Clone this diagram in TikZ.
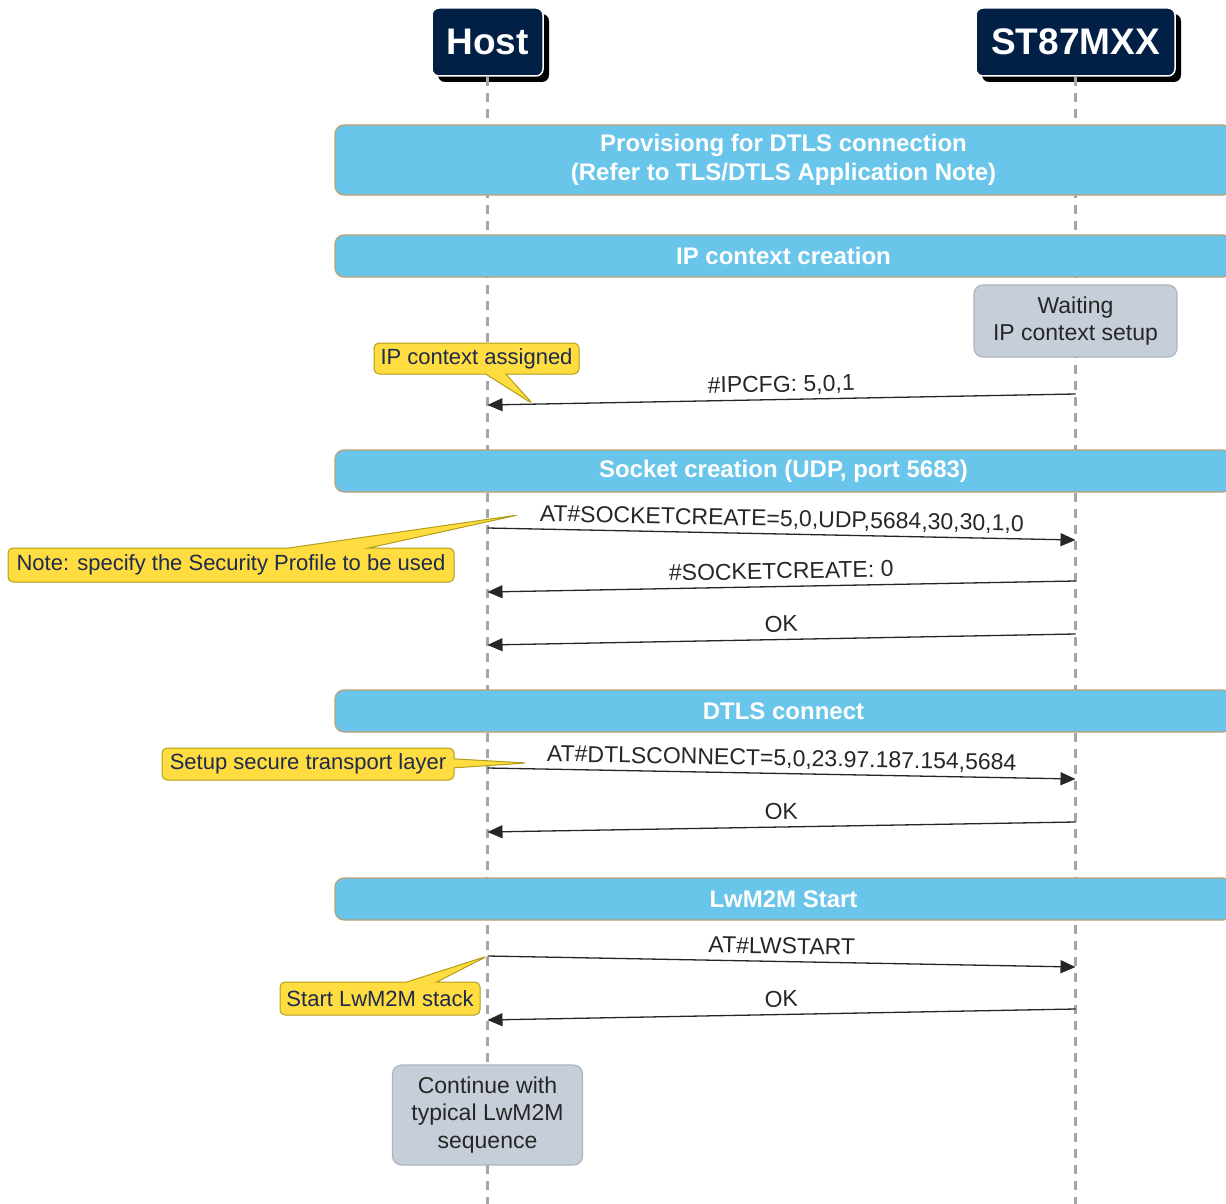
\documentclass[tikz,border=0pt]{standalone}
\usepackage{fontspec}
\setmainfont{Liberation Sans}
\usetikzlibrary{arrows.meta, positioning, shapes.callouts, shadows}
\definecolor{hdrnavy}{RGB}{2,32,70}
\definecolor{bandblue}{RGB}{106,197,235}
\definecolor{bandedge}{RGB}{190,160,115}
\definecolor{waitgray}{RGB}{197,206,217}
\definecolor{waitedge}{RGB}{172,180,192}
\definecolor{noteyellow}{RGB}{255,221,64}
\definecolor{noteedge}{RGB}{178,158,24}
\definecolor{notetext}{RGB}{30,42,78}
\definecolor{lifegray}{RGB}{165,165,165}

\begin{document}
\begin{tikzpicture}[x=1pt, y=-1pt,
    actor/.style={rectangle, rounded corners=7pt, fill=hdrnavy, draw=white, line width=1.5pt,
                  text=white, font=\fontsize{37}{40}\selectfont\bfseries, minimum height=68pt,
                  drop shadow={shadow xshift=6pt, shadow yshift=-6pt, fill=black, opacity=1}},
    band/.style={rectangle, rounded corners=9pt, fill=bandblue, draw=bandedge, line width=1.2pt,
                 text=white, align=center, minimum width=897pt, font=\fontsize{24}{29}\selectfont\bfseries},
    state/.style={rectangle, rounded corners=9pt, fill=waitgray, draw=waitedge, line width=1.2pt,
                  text=black!85, align=center, font=\fontsize{23}{27.5}\selectfont},
    note/.style={rectangle callout, rounded corners=5pt, fill=noteyellow, draw=noteedge, line width=1pt,
                 text=notetext, font=\fontsize{22}{26}\selectfont, inner sep=2pt},
    lifeline/.style={lifegray, line width=2.2pt, dash pattern=on 9pt off 7pt},
    msg/.style={-{Triangle[length=15pt, width=13pt]}, line width=1.3pt, black!85},
    msglabel/.style={font=\fontsize{23}{27}\selectfont, midway, sloped, above=1pt, inner sep=2pt,
                     text height=16pt, text depth=4pt}
]
    \useasboundingbox (0,0) rectangle (1226,1204);
    \clip (0,0) rectangle (1226,1204);

    % actors and lifelines
    \node[actor, minimum width=111pt] (host)  at (487.5,42)  {Host};
    \node[actor, minimum width=199pt] (modem) at (1075.5,42) {ST87MXX};
    \coordinate (hostend)  at (487.5,1204);
    \coordinate (modemend) at (1075.5,1204);
    \draw[lifeline] (host.south) -- (hostend);
    \draw[lifeline] (modem.south) -- (modemend);

    % phases
    \node[band, minimum height=70pt] (prov)    at (783.5,160) {Provisiong for DTLS connection\\(Refer to TLS/DTLS Application Note)};
    \node[band, minimum height=42pt] (ipctx)   at (783.5,256) {IP context creation};
    \node[band, minimum height=42pt] (sock)    at (783.5,471) {Socket creation (UDP, port 5683)};
    \node[band, minimum height=42pt] (dtls)    at (783.5,711) {DTLS connect};
    \node[band, minimum height=42pt] (lwstart) at (783.5,899) {LwM2M Start};

    % states
    \node[state, minimum width=203pt, minimum height=72pt]  (waiting)  at (1075.5,321) {Waiting\\IP context setup};
    \node[state, minimum width=190pt, minimum height=100pt] (continue) at (487.5,1115) {Continue with\\typical LwM2M\\sequence};

    % message end points
    \coordinate (ipcfgS)   at (1075.5,394);  \coordinate (ipcfgH)   at (487.5,405);
    \coordinate (sockcmdH) at (487.5,528);   \coordinate (sockcmdS) at (1075.5,540);
    \coordinate (sockresS) at (1075.5,581);  \coordinate (sockresH) at (487.5,592);
    \coordinate (sockokS)  at (1075.5,634);  \coordinate (sockokH)  at (487.5,645);
    \coordinate (dtlscmdH) at (487.5,768);   \coordinate (dtlscmdS) at (1075.5,779);
    \coordinate (dtlsokS)  at (1075.5,822);  \coordinate (dtlsokH)  at (487.5,832);
    \coordinate (lwcmdH)   at (487.5,956);   \coordinate (lwcmdS)   at (1075.5,967);
    \coordinate (lwokS)    at (1075.5,1009); \coordinate (lwokH)    at (487.5,1020);

    \draw[msg] (ipcfgS) -- node[msglabel] {\#IPCFG: 5,0,1} (ipcfgH);
    \draw[msg] (sockcmdH) -- node[msglabel] (sockcmd) {AT\#SOCKETCREATE=5,0,UDP,5684,30,30,1,0} (sockcmdS);
    \draw[msg] (sockresS) -- node[msglabel] {\#SOCKETCREATE: 0} (sockresH);
    \draw[msg] (sockokS) -- node[msglabel] {OK} (sockokH);
    \draw[msg] (dtlscmdH) -- node[msglabel] (dtlscmd) {AT\#DTLSCONNECT=5,0,23.97.187.154,5684} (dtlscmdS);
    \draw[msg] (dtlsokS) -- node[msglabel] {OK} (dtlsokH);
    \draw[msg] (lwcmdH) -- node[msglabel] {AT\#LWSTART} (lwcmdS);
    \draw[msg] (lwokS) -- node[msglabel] {OK} (lwokH);

    % callouts
    \coordinate (iptip)    at (533,404);
    \coordinate (socktip)  at (518,515);
    \coordinate (dtlstip)  at (527,763);
    \node[note, minimum width=205pt, minimum height=31pt, callout absolute pointer={(iptip)},
          callout pointer width=20pt] (ipnote) at (476.5,358.5) {IP context assigned};
    \node[note, minimum width=446pt, minimum height=34pt, callout absolute pointer={(socktip)},
          callout pointer width=80pt] (socknote) at (231,565) {Note: specify the Security Profile to be used};
    \node[note, minimum width=292pt, minimum height=32pt, callout absolute pointer={(dtlstip)},
          callout pointer width=9pt] (dtlsnote) at (308,764) {Setup secure transport layer};
    \node[note, minimum width=200pt, minimum height=33pt, callout absolute pointer={(lwcmdH)},
          callout pointer width=30pt] (lwnote) at (380,998.5) {Start LwM2M stack};
\end{tikzpicture}
\end{document}
